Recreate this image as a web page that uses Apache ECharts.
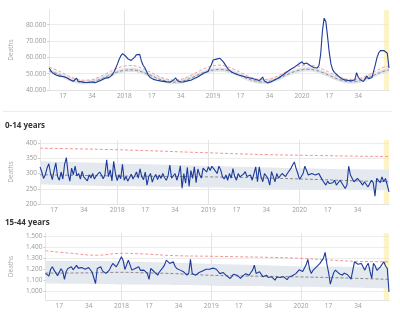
<!DOCTYPE html>
<html><head><meta charset="utf-8">
<script src="https://cdn.jsdelivr.net/npm/echarts@6/dist/echarts.min.js"></script>
<style>html,body{margin:0;padding:0;background:#fff}#c{width:400px;height:323px}</style>
</head><body><div id="c"></div>
<script>
// ---- time span (ISO weeks) ----
const startYear = 2017, startWeek = 9, endYear = 2020, endWeek = 52;
const labelWeeks = [1, 17, 34];          // weeks labelled on x axis (week 1 shows the year)
const highlightFrom = '2020-49', highlightTo = '2020-52';

// ---- Panel 1: all ages (total) ----
const totalDeaths = [
53500,51800,50500,49800,49200,48800,48500,48900,48300,47900,
47600,47000,46400,45800,45300,45900,47200,45400,46300,45000,
44800,44600,45000,44700,44500,44900,44600,44400,44800,45300,
45800,46300,46800,47300,47000,47600,48000,49300,51200,53500,
56000,58800,61000,62300,62000,60500,59200,58400,58100,58700,
60000,61500,62600,61800,57800,55200,53600,51500,49200,47800,
46900,46500,46200,46000,45800,45600,45400,45300,45100,45000,
45200,44900,45400,46200,47500,45800,45100,44900,44600,45000,
45200,45600,46100,46000,46500,47000,47300,48000,48600,49300,
49800,50500,51000,51400,52500,55500,58400,58600,58900,59200,
59400,58500,57200,56000,54000,52500,51500,50900,50400,49900,
49700,49200,48900,48600,48300,48000,47800,47500,47200,47000,
46800,46400,46100,45800,45500,47900,45600,45000,44300,44600,
45000,45500,46100,46600,47200,47900,48600,49300,50100,50800,
51600,52300,53000,53700,54300,55000,55800,56700,57300,56000,
55300,56500,55800,54800,54300,53800,53400,53500,55000,62000,
76000,84000,82000,73000,63000,56000,52500,50800,49800,48900,
47900,47100,46600,46200,46500,45900,46300,45700,45500,46200,
50600,47800,46500,45600,45200,46800,48500,46900,46200,47600,
51500,55500,60000,62800,64100,64300,64200,64300,62500,53500];
const totalIdx = [0,4,8,12,16,20,24,28,32,36,40,44,48,52,56,60,64,68,72,76,80,84,88,92,96,100,104,108,112,116,120,124,128,132,136,140,144,148,152,156,160,164,168,172,176,180,184,188,192,196,199];
const totalBaseline = [51600,50200,48500,46600,45300,44600,44800,45900,47500,49400,51000,52000,52300,51800,50400,48700,46800,45500,44800,45000,46100,47700,49600,51200,52200,52500,52000,50600,48900,47000,45700,45000,45200,46300,47900,49800,51400,52400,52700,52100,50700,49000,47100,45800,45100,45300,46400,48000,49900,51500,52300];
const totalThreshold = [54000,52300,50400,48300,46800,46000,46200,47400,49300,51500,53400,54600,55000,54200,52500,50600,48500,47000,46200,46400,47600,49500,51700,53600,54800,55200,54400,52700,50800,48700,47200,46400,46600,47800,49700,51900,53800,55000,55400,54500,52800,50900,48800,47300,46500,46700,47900,49800,52000,53900,54600];
const totalBandLow = [50300,48900,47200,45300,44000,43300,43500,44600,46200,48100,49700,50700,51000,50500,49100,47400,45500,44200,43500,43700,44800,46400,48300,49900,50900,51200,50700,49300,47600,45700,44400,43700,43900,45000,46600,48500,50100,51100,51400,50800,49400,47700,45800,44500,43800,44000,45100,46700,48600,50200,51000];
const totalBandHigh = [52900,51500,49800,47900,46600,45900,46100,47200,48800,50700,52300,53300,53600,53100,51700,50000,48100,46800,46100,46300,47400,49000,50900,52500,53500,53800,53300,51900,50200,48300,47000,46300,46500,47600,49200,51100,52700,53700,54000,53400,52000,50300,48400,47100,46400,46600,47700,49300,51200,52800,53600];

// ---- Panel 2: 0-14 years ----
const kidsDeaths = [
322,305,284,296,318,332,300,280,310,335,
290,278,305,282,330,352,300,275,318,296,
324,292,300,282,307,288,290,276,296,285,
300,282,292,288,305,295,283,296,345,290,
312,276,340,300,277,296,283,330,278,290,
275,286,298,282,293,305,285,315,290,280,
305,262,290,300,272,288,297,280,295,284,
300,286,278,292,328,285,290,300,278,296,
325,252,300,268,320,258,310,284,322,270,
315,296,285,318,318,305,322,310,324,316,
320,300,324,312,290,282,295,278,300,285,
316,290,278,300,289,285,298,306,290,284,
295,278,300,322,273,322,290,273,300,306,
284,262,306,290,273,300,285,289,300,295,
290,300,295,316,328,338,317,300,281,290,
300,324,310,295,289,300,306,295,290,300,
289,285,270,262,275,267,273,270,278,262,
265,278,270,275,251,262,324,295,289,273,
273,284,280,270,262,273,268,256,262,278,
270,226,284,278,270,289,273,284,278,240];
const kidsIdx = [0,44,96,130,160,180,199];
const kidsBaseline = [296,292,289,285,280,276,273];
const kidsThreshold = [383,378,368,362,359,357,356];
const kidsBandLow = [264,258,254,250,247,246,245];
const kidsBandHigh = [340,333,325,320,316,314,313];

// ---- Panel 3: 15-44 years ----
const adultDeaths = [
1162,1145,1137,1200,1222,1192,1200,1140,1131,1205,
1180,1107,1180,1207,1215,1222,1195,1192,1235,1210,
1192,1215,1229,1200,1192,1215,1207,1175,1162,1070,
1207,1220,1222,1185,1170,1162,1180,1192,1225,1253,
1238,1222,1250,1268,1314,1280,1198,1240,1283,1240,
1192,1200,1207,1215,1222,1190,1177,1192,1185,1162,
1107,1207,1190,1177,1160,1146,1175,1192,1215,1240,
1283,1265,1253,1262,1268,1230,1207,1200,1192,1185,
1177,1160,1146,1165,1290,1162,1155,1146,1162,1170,
1177,1185,1192,1200,1207,1200,1192,1210,1222,1200,
1192,1160,1146,1170,1177,1140,1131,1116,1135,1155,
1162,1146,1130,1116,1135,1146,1160,1155,1146,1170,
1192,1238,1162,1170,1177,1160,1131,1140,1146,1125,
1116,1131,1125,1101,1130,1146,1125,1116,1131,1120,
1105,1130,1146,1140,1131,1160,1177,1195,1207,1180,
1162,1240,1290,1200,1162,1190,1200,1222,1238,1253,
1270,1299,1354,1250,1170,1065,1120,1170,1192,1175,
1162,1150,1146,1165,1177,1150,1131,1110,1101,1268,
1253,1245,1238,1253,1220,1192,1230,1253,1180,1116,
1253,1230,1190,1177,1222,1240,1268,1230,1207,994];
const adultIdx = [0,15,30,44,56,75,96,110,130,148,165,185,199];
const adultThreshold = [1368,1345,1328,1345,1340,1324,1318,1314,1308,1299,1283,1270,1268];
const adultBaseline = [1165,1166,1168,1172,1168,1160,1145,1140,1135,1130,1124,1115,1108];
const adultBandHigh = [1277,1276,1274,1270,1266,1260,1250,1243,1235,1228,1224,1221,1220];
const adultBandLow = [1070,1068,1066,1062,1060,1056,1050,1047,1043,1040,1035,1030,1028];

// ---- build week categories ----
const weeks = [];
for (let y = startYear; y <= endYear; y++) {
  const w0 = (y === startYear) ? startWeek : 1;
  const w1 = (y === endYear) ? endWeek : 52;
  for (let w = w0; w <= w1; w++) weeks.push(y + '-' + String(w).padStart(2, '0'));
}
const wk = v => +v.split('-')[1];

const FONT = 'Open Sans';
const fmtNum = v => String(v).replace(/\B(?=(\d{3})+(?!\d))/g, '.');

const grids = [
  {left: 30, right: 11, top: 10, height: 80},
  {left: 30, right: 11, top: 140, height: 64},
  {left: 30, right: 11, top: 233, height: 67}
];
const yRanges = [[40000, 89000, true], [200, 410, true], [920, 1530, false]];

const xAxes = grids.map((g, k) => ({
  type: 'category', gridIndex: k, data: weeks, boundaryGap: false,
  axisLine: {show: true, lineStyle: {color: '#e3e3e3'}},
  axisTick: {show: false},
  axisLabel: {
    interval: (i, v) => labelWeeks.includes(wk(v)),
    formatter: v => wk(v) === 1 ? v.split('-')[0] : String(wk(v)),
    color: '#9a9a9a', fontSize: 6.5, fontFamily: FONT, margin: 3
  },
  splitLine: {show: true, interval: (i, v) => wk(v) === 1, lineStyle: {color: '#e3e3e3', width: 1}}
}));
const yAxes = yRanges.map((r, k) => ({
  type: 'value', gridIndex: k, min: r[0], max: r[1],
  name: 'Deaths', nameLocation: 'middle', nameGap: 22,
  nameTextStyle: {color: '#aaa', fontSize: 6.5, fontFamily: FONT},
  axisLine: {show: true, lineStyle: {color: '#e6e6e6'}},
  axisTick: {show: true, length: 2, lineStyle: {color: '#ccc'}},
  axisLabel: {formatter: fmtNum, color: '#9a9a9a', fontSize: 6.5, fontFamily: FONT, margin: 3,
              showMinLabel: r[2], showMaxLabel: false},
  splitLine: {show: true, showMaxLine: false, lineStyle: {color: '#ececec'}}
}));

const pairs = (idx, vals) => idx.map((i, j) => [i, vals[j]]);
function panelSeries(k, actual, idx, base, thr, lo, hi, bandColor) {
  const diff = hi.map((h, j) => h - lo[j]);
  return [
    {type: 'line', xAxisIndex: k, yAxisIndex: k, stack: 'band' + k, data: pairs(idx, lo), smooth: true,
     symbol: 'none', lineStyle: {opacity: 0}, silent: true, z: 1,
     markArea: {silent: true, itemStyle: {color: 'rgba(250,236,160,0.6)'},
       data: [[{xAxis: highlightFrom}, {xAxis: highlightTo}]]}},
    {type: 'line', xAxisIndex: k, yAxisIndex: k, stack: 'band' + k, data: pairs(idx, diff), smooth: true,
     symbol: 'none', lineStyle: {opacity: 0}, areaStyle: {color: bandColor, opacity: 1}, silent: true, z: 1},
    {type: 'line', xAxisIndex: k, yAxisIndex: k, data: pairs(idx, base), smooth: true, symbol: 'none',
     lineStyle: {color: '#7d7d7d', width: 0.9, type: [3, 2]}, z: 2},
    {type: 'line', xAxisIndex: k, yAxisIndex: k, data: pairs(idx, thr), smooth: true, symbol: 'none',
     lineStyle: {color: '#f08a8a', width: 0.9, type: [3, 2]}, z: 2},
    {type: 'line', xAxisIndex: k, yAxisIndex: k, data: actual, symbol: 'none',
     lineStyle: {color: '#1c3a9a', width: 1.1}, z: 3}
  ];
}

const series = [].concat(
  panelSeries(0, totalDeaths, totalIdx, totalBaseline, totalThreshold, totalBandLow, totalBandHigh, '#e1e5ea'),
  panelSeries(1, kidsDeaths, kidsIdx, kidsBaseline, kidsThreshold, kidsBandLow, kidsBandHigh, '#e4e9f0'),
  panelSeries(2, adultDeaths, adultIdx, adultBaseline, adultThreshold, adultBandLow, adultBandHigh, '#e4e9f0')
);

const chart = echarts.init(document.getElementById('c'), null, {renderer: 'canvas'});
chart.setOption({
  animation: false,
  backgroundColor: '#fff',
  title: [
    {text: '0-14 years', left: 5, top: 121, padding: 0, textStyle: {fontSize: 8, fontWeight: 'bold', color: '#333', fontFamily: FONT, lineHeight: 10}},
    {text: '15-44 years', left: 5, top: 218, padding: 0, textStyle: {fontSize: 8, fontWeight: 'bold', color: '#333', fontFamily: FONT, lineHeight: 10}}
  ],
  graphic: [
    {type: 'line', shape: {x1: 3, y1: 111.5, x2: 392, y2: 111.5}, style: {stroke: '#ececec', lineWidth: 1}}
  ],
  grid: grids,
  xAxis: xAxes,
  yAxis: yAxes,
  series: series
});
</script>
</body></html>
